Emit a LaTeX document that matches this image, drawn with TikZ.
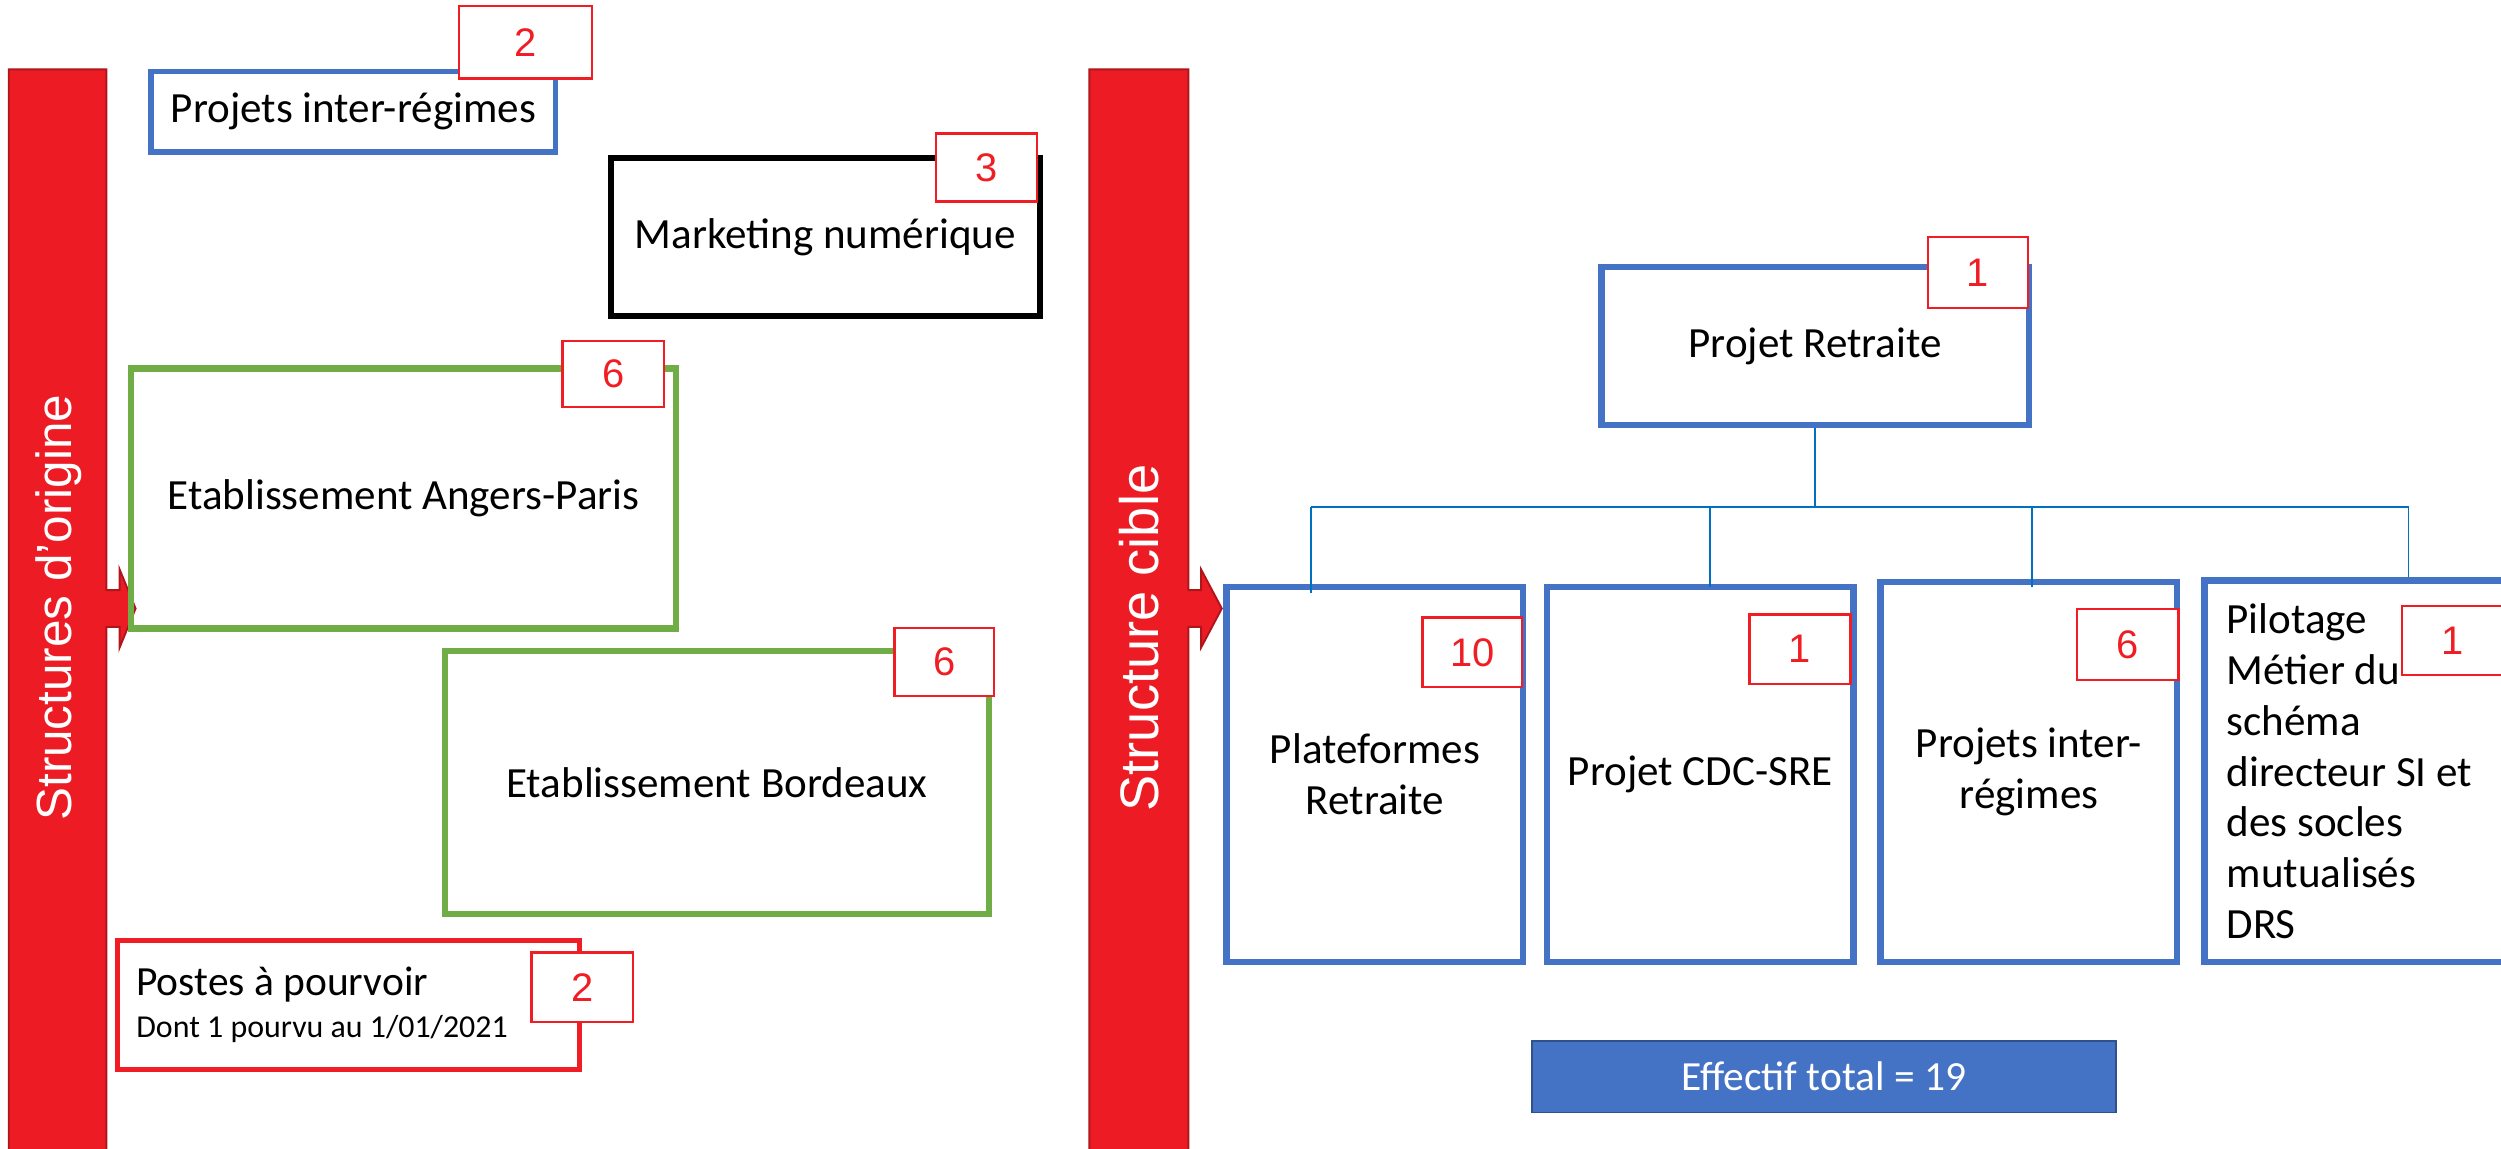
\documentclass[tikz,border=0pt]{standalone}
\usepackage{fontspec}
\setmainfont{Carlito}
\newfontfamily\arialfont{Liberation Sans}
\usepackage{tikz}

\definecolor{boxblue}{RGB}{68,114,196}
\definecolor{boxgreen}{RGB}{112,173,71}
\definecolor{countred}{RGB}{240,30,36}
\definecolor{barred}{RGB}{237,28,36}
\definecolor{bardark}{RGB}{175,22,28}
\definecolor{linkblue}{RGB}{0,112,192}
\definecolor{totaldark}{RGB}{47,82,143}

\begin{document}
\begin{tikzpicture}[x=1pt,y=-1pt,
    box node/.style={draw,line width=4pt,inner sep=0pt,align=center,font=\fontsize{27}{31.8}\selectfont},
    blue node/.style={box node,draw=boxblue},
    green node/.style={box node,draw=boxgreen},
    count node/.style={draw=countred,fill=white,line width=1.5pt,text=countred,inner sep=0pt,minimum width=63.5pt,minimum height=43.5pt,font=\arialfont\fontsize{25}{30}\selectfont},
    bar node/.style={rotate=90,text=white,font=\arialfont\fontsize{31}{36}\selectfont},
    red bar/.style={fill=barred,draw=bardark,line width=1.2pt},
    link/.style={draw=linkblue,line width=1pt}]
    \useasboundingbox (0,0) rectangle (1568,720);
    \clip (0,0) rectangle (1568,720);

    % bars with arrows
    \draw[red bar] (5.5,43.5) -- (66.7,43.5) -- (66.7,370) -- (75,370) -- (75,357) -- (85,381.5)
      -- (75,406) -- (75,393) -- (66.7,393) -- (66.7,730) -- (5.5,730) -- cycle;
    \draw[red bar] (683,43.5) -- (745,43.5) -- (745,370) -- (753,370) -- (753,357) -- (766,381.5)
      -- (753,406) -- (753,393) -- (745,393) -- (745,730) -- (683,730) -- cycle;
    \node[bar node] (origine) at (37,381) {Structures d’origine};
    \node[bar node,font=\arialfont\fontsize{34}{38}\selectfont] (cible) at (714,400) {Structure cible};

    % structures d'origine
    \node[blue node,line width=3.5pt,minimum width=253.5pt,minimum height=50.5pt] (inter) at (221.5,70) {Projets inter-régimes};
    \node[box node,minimum width=269pt,minimum height=99pt] (mkt) at (517.5,148.5) {Marketing numérique};
    \node[green node,minimum width=342pt,minimum height=163pt] (angers) at (253,312.5) {Etablissement Angers-Paris};
    \node[green node,minimum width=341pt,minimum height=165pt] (bdx) at (449.5,490.5) {Etablissement Bordeaux};
    \node[box node,draw=countred,line width=3pt,minimum width=290pt,minimum height=81pt,align=flush left,text width=266pt,inner xsep=12pt,
      font=\fontsize{26}{31}\selectfont] (postes) at (218.5,630)
      {Postes à pourvoir\\[-5pt]{\fontsize{20}{25}\selectfont Dont 1 pourvu au 1/01/2021}};

    \node[count node,minimum width=83.5pt,minimum height=45.5pt] (c0) at (329.5,26.5) {2};
    \node[count node,minimum height=42.5pt] (c1) at (618.5,105) {3};
    \node[count node,minimum height=41.5pt] (c2) at (384.5,234.5) {6};
    \node[count node,minimum width=62.5pt,minimum height=42.5pt] (c3) at (592,415) {6};
    \node[count node] (c4) at (365,619) {2};

    % structure cible
    \node[blue node,minimum width=268pt,minimum height=99pt] (retraite) at (1138,217) {Projet Retraite};
    \node[blue node,minimum width=186pt,minimum height=235pt] (plat) at (862,485.5) {Plateformes\\Retraite};
    \node[blue node,minimum width=192pt,minimum height=235pt] (cdc) at (1066,485.5) {Projet CDC-SRE};
    \node[blue node,minimum width=186pt,minimum height=238pt] (regimes) at (1272,484) {Projets inter-\\régimes};
    \node[blue node,minimum height=239pt,align=flush left,text width=166pt,inner xsep=14pt] (pilot) at (1479,483.5)
      {Pilotage\\Métier du\\schéma\\directeur SI et\\des socles\\mutualisés\\DRS};
    \node[fill=boxblue,draw=totaldark,line width=1pt,text=white,minimum width=366pt,minimum height=45pt,
      font=\fontsize{26}{31.8}\selectfont] (total) at (1143.5,675) {Effectif total = 19};

    \node[count node,minimum width=62.5pt,minimum height=44.5pt] (c5) at (1240,171) {1};
    \node[count node,minimum width=62.5pt] (c6) at (923,409) {10};
    \node[count node] (c7) at (1128.5,407) {1};
    \node[count node,minimum height=44.5pt] (c8) at (1334,404) {6};
    \node[count node] (c9) at (1537.5,401.5) {1};

    % organigramme
    \coordinate (busl) at (822,318);
    \coordinate (busr) at (1510,318);
    \coordinate (d1) at (822,372);
    \coordinate (d2) at (1072,368);
    \coordinate (d3) at (1274,368);
    \coordinate (d4) at (1510,362);
    \path[link]
    (retraite.south) edge (retraite.south |- busl)
    (busl) edge (busr)
    (busl) edge (d1)
    (d2 |- busl) edge (d2)
    (d3 |- busl) edge (d3)
    (busr) edge (d4);
\end{tikzpicture}
\end{document}
